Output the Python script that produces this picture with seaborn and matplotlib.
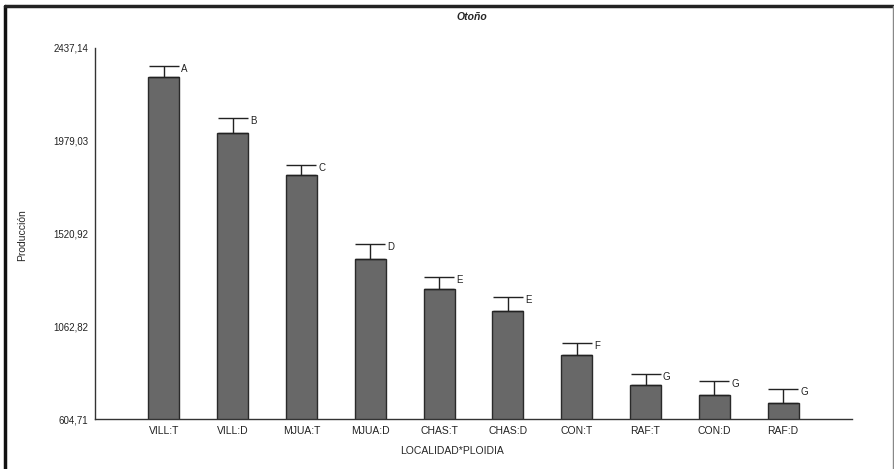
import pandas as pd
import numpy as np
import seaborn as sns
import matplotlib.pyplot as plt
from matplotlib.lines import Line2D

# values
groups = ["VILL:T", "VILL:D", "MJUA:T", "MJUA:D", "CHAS:T",
          "CHAS:D", "CON:T", "RAF:T", "CON:D", "RAF:D"]
means = [2294, 2017, 1810, 1395, 1247, 1138, 921, 773, 723, 684]
upper = [2348, 2091, 1859, 1469, 1306, 1207, 980, 827, 792, 753]
letters = ["A", "B", "C", "D", "E", "E", "F", "G", "G", "G"]
yticks = [604.71, 1062.82, 1520.92, 1979.03, 2437.14]

df = pd.DataFrame({"grupo": groups, "prod": means})

sns.set_style("white")
plt.rcParams["font.family"] = ["Liberation Sans", "DejaVu Sans"]

fig = plt.figure(figsize=(8.94, 4.69), dpi=100)
ax = fig.add_axes([95 / 894, 1 - 419 / 469, (852 - 95) / 894, (419 - 48) / 469])

sns.barplot(data=df, x="grupo", y="prod", color="#686868", saturation=1,
            width=0.45, edgecolor="#2a2a2a", linewidth=1.0, ax=ax)

x = np.arange(len(groups))
err = np.array(upper) - np.array(means)
ax.errorbar(x, means, yerr=[np.zeros(len(err)), err], fmt="none",
            ecolor="#222222", elinewidth=1.0, capsize=11, capthick=1.0)

for xi, up, lt in zip(x, upper, letters):
    ax.text(xi + 0.25, up - 15, lt, fontsize=7, color="#222222",
            ha="left", va="center")

ax.set_xlim(-1, len(groups))
ax.set_ylim(yticks[0], yticks[-1])
ax.set_yticks(yticks)
ax.set_yticklabels([f"{v:.2f}".replace(".", ",") for v in yticks], fontsize=7)
ax.set_xticks(x)
ax.set_xticklabels(groups, fontsize=7.5)
ax.tick_params(axis="y", direction="out", length=4, width=0.8, pad=1, colors="#222222")
ax.tick_params(axis="x", direction="in", length=3, width=0.8, pad=5, colors="#222222")
ax.set_xlabel("")
ax.set_ylabel("")

sns.despine(ax=ax)
for s in ["left", "bottom"]:
    ax.spines[s].set_color("#333333")
    ax.spines[s].set_linewidth(1.0)

fig.text(472 / 894, 1 - 17 / 469, "Otoño", fontsize=7.5, fontweight="bold",
         fontstyle="italic", ha="center", va="center")
fig.text(22 / 894, 1 - 235 / 469, "Producción", fontsize=7.5, rotation=90,
         ha="center", va="center")
fig.text(452 / 894, 1 - 451 / 469, "LOCALIDAD*PLOIDIA", fontsize=7.5,
         ha="center", va="center")

# outer frame of the original figure: thick left/top, thin grey right
top = 1 - 6 / 469
left = 5 / 894
right = 892.5 / 894
fig.lines.append(Line2D([left, left], [0, top], transform=fig.transFigure,
                        color="#111111", linewidth=2.5))
fig.lines.append(Line2D([left, right], [top, top], transform=fig.transFigure,
                        color="#222222", linewidth=2.5))
fig.lines.append(Line2D([right, right], [0, top], transform=fig.transFigure,
                        color="#888888", linewidth=1.0))

fig.savefig("out.png", dpi=100)
